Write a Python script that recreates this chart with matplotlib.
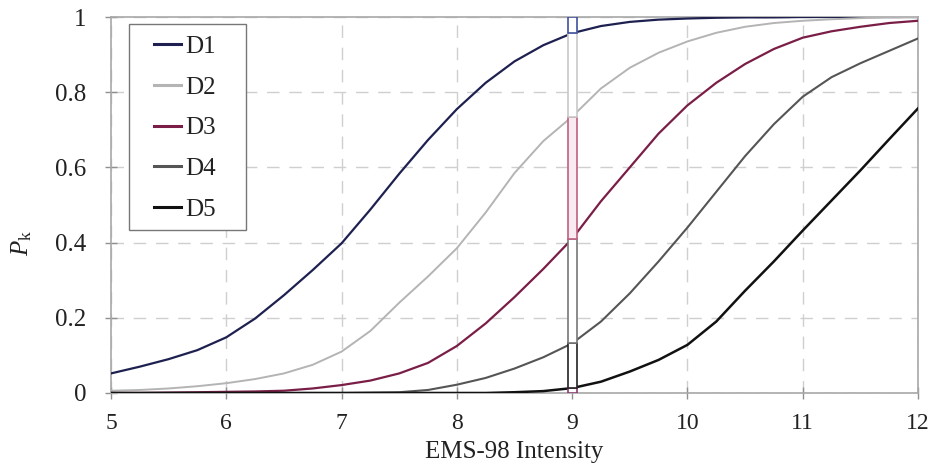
import numpy as np
import matplotlib
matplotlib.use("Agg")
import matplotlib.pyplot as plt
from matplotlib.patches import Rectangle

plt.rcParams['font.family'] = ['Liberation Serif', 'DejaVu Serif']
plt.rcParams['mathtext.fontset'] = 'custom'
plt.rcParams['mathtext.rm'] = 'Liberation Serif'
plt.rcParams['mathtext.it'] = 'Liberation Serif:italic'

# EMS-98 intensity grid
intensity = [5.0, 5.25, 5.5, 5.75, 6.0, 6.25, 6.5, 6.75, 7.0, 7.25, 7.5, 7.75,
             8.0, 8.25, 8.5, 8.75, 9.0, 9.25, 9.5, 9.75, 10.0, 10.25, 10.5,
             10.75, 11.0, 11.25, 11.5, 11.75, 12.0]

# Exceedance probabilities for each damage state
d1 = [0.052, 0.070, 0.090, 0.114, 0.148, 0.198, 0.260, 0.327, 0.398, 0.488,
      0.583, 0.673, 0.755, 0.825, 0.882, 0.925, 0.957, 0.976, 0.987, 0.993,
      0.996, 0.998, 0.999, 0.999, 1.000, 1.000, 1.000, 1.000, 1.000]
d2 = [0.006, 0.008, 0.012, 0.018, 0.026, 0.037, 0.052, 0.075, 0.110, 0.165,
      0.240, 0.310, 0.385, 0.480, 0.585, 0.670, 0.735, 0.810, 0.865, 0.905,
      0.935, 0.958, 0.974, 0.984, 0.990, 0.994, 0.997, 0.999, 1.000]
d3 = [0.000, 0.000, 0.001, 0.002, 0.003, 0.004, 0.006, 0.012, 0.021, 0.033,
      0.052, 0.080, 0.125, 0.185, 0.255, 0.330, 0.410, 0.510, 0.600, 0.690,
      0.765, 0.825, 0.875, 0.915, 0.945, 0.962, 0.974, 0.984, 0.990]
d4 = [0.000, 0.000, 0.000, 0.000, 0.000, 0.000, 0.000, 0.000, 0.000, 0.001,
      0.002, 0.008, 0.022, 0.040, 0.065, 0.095, 0.132, 0.190, 0.265, 0.350,
      0.440, 0.535, 0.630, 0.715, 0.788, 0.840, 0.877, 0.910, 0.943]
d5 = [0.000, 0.000, 0.000, 0.000, 0.000, 0.000, 0.000, 0.000, 0.000, 0.000,
      0.000, 0.000, 0.000, 0.000, 0.002, 0.005, 0.013, 0.030, 0.057, 0.088,
      0.128, 0.190, 0.272, 0.350, 0.432, 0.512, 0.592, 0.675, 0.757]

labels = ["D1", "D2", "D3", "D4", "D5"]
curves = [d1, d2, d3, d4, d5]
colors = ["#1e2150", "#b4b4b4", "#7a1e47", "#555555", "#111111"]
widths = [1.6, 1.4, 1.6, 1.5, 1.8]

# Intensity at which the damage distribution is shown as a stacked column
bar_intensity = 9.0

fig = plt.figure(figsize=(9.34, 4.66), dpi=100)
ax = fig.add_axes([0.1188, 0.1567, 0.8641, 0.8068])

for y, lab, c, lw in zip(curves, labels, colors, widths):
    ax.plot(intensity, y, color=c, lw=lw, label=lab, zorder=3)

# Stacked column: probability of each discrete damage grade at the chosen intensity
k = intensity.index(bar_intensity)
levels = [0.0] + [c[k] for c in reversed(curves)] + [1.0]
seg_edges = ["#8a3a6e", "#222222", "#777777", "#c0607f", "#c8c8c8", "#4050a0"]
seg_faces = ["white", "white", "white", "#f8eaf0", "white", "white"]
for lo, hi, ec, fc in zip(levels[:-1], levels[1:], seg_edges, seg_faces):
    ax.bar(bar_intensity, hi - lo, bottom=lo, width=0.078, color=fc,
           edgecolor=ec, linewidth=1.2, zorder=4)

ax.set_xlim(5, 12)
ax.set_ylim(0, 1)
ax.set_xticks(range(5, 13))
ax.set_yticks([0, 0.2, 0.4, 0.6, 0.8, 1.0])
ax.set_yticklabels(["0", "0.2", "0.4", "0.6", "0.8", "1"])

ax.grid(True, color="#cfcfcf", linestyle=(0, (9, 7)), linewidth=1.0, zorder=0)
for s in ax.spines.values():
    s.set_color("#a8a8a8")
    s.set_linewidth(1.2)

ax.tick_params(axis="both", direction="inout", length=9, width=1.0,
               color="#909090", labelcolor="#222222")
ax.tick_params(axis="y", pad=13, labelsize=18)
ax.tick_params(axis="x", pad=10, labelsize=17)

ax.set_xlabel("EMS-98 Intensity", fontsize=18, color="#222222")
ax.xaxis.set_label_coords(0.5, -0.128)
ax.set_ylabel("$P_\\mathrm{k}$", fontsize=18, color="#222222")
ax.yaxis.set_label_coords(-0.095, 0.40)

# Legend box drawn as its own frame, entries placed inside it
ax.add_patch(Rectangle((0.0223, 0.4335), 0.1447, 0.5475, transform=ax.transAxes,
                       facecolor="white", edgecolor="#777777", linewidth=1.0,
                       zorder=5))
leg = ax.legend(loc="upper left", bbox_to_anchor=(0.053, 0.951), fontsize=18,
                frameon=False, handlelength=1.1, handletextpad=0.15,
                labelspacing=0.73, borderpad=0, borderaxespad=0)
leg.set_zorder(6)
for t in leg.get_texts():
    t.set_color("#222222")
for h in leg.get_lines():
    h.set_linewidth(2.2)

fig.savefig("out.png", dpi=100)
